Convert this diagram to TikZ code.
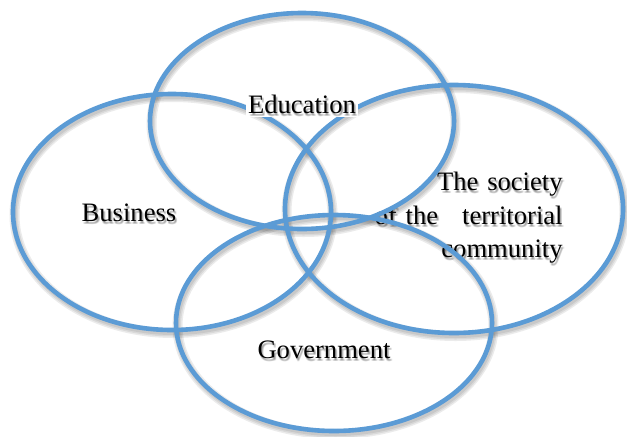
\documentclass[tikz,border=0pt]{standalone}
\usepackage{fontspec}
\setmainfont{Liberation Serif}
\usetikzlibrary{calc}

\definecolor{ringblue}{HTML}{5B9BD5}

\tikzset{
  ring/.style={draw=ringblue,line width=2.3pt},
  ringshade/.style={draw=black,opacity=0.08,line width=#1},
  venntext/.style={font=\fontsize{13.3}{16.75}\selectfont,inner sep=0pt},
}

% label with a soft grey shadow underneath
\newcommand{\setlabel}[4][]{%
  \foreach \dx/\dy in {1/2,2/3,1/3,2/2}
    \node[venntext,#1,text opacity=0.11] at ($(#3)+(\dx,\dy)$) {#4};
  \node[venntext,#1] (#2) at (#3) {#4};}

\begin{document}
\begin{tikzpicture}[x=0.5pt,y=-0.5pt]
  \useasboundingbox (0,0) rectangle (627,436);

  % labels under the rings
  \setlabel{business}{129,213}{Business}
  \setlabel{government}{324,350}{Government}
  \setlabel[text width=94pt,align=right,anchor=east]{society}{563,218}%
    {The society\\ of the\hfill territorial\\ community}

  % the education ring hides the top of "of"
  \begin{scope}
    \clip (302,121) ellipse [x radius=152,y radius=108];
    \fill[white] (370,196) rectangle (398,210.5);
  \end{scope}

  % rings: shadows first, then the strokes
  \foreach \cx/\cy/\rx/\ry in {172/212/159/118,302/121/152/108,
                               454/209/169/124,334/323/158/108}
    \foreach \w in {5,3.5,2}
      \draw[ringshade=\w pt] (\cx+1.5,\cy+3) ellipse [x radius=\rx,y radius=\ry];
  \foreach \cx/\cy/\rx/\ry in {172/212/159/118,302/121/152/108,
                               454/209/169/124,334/323/158/108}
    \draw[ring] (\cx,\cy) ellipse [x radius=\rx,y radius=\ry];

  % education sits on top of the rings
  \node[venntext,fill=white,inner xsep=1pt,inner ysep=2pt] (edupatch) at (302,104)
    {\phantom{Education}};
  \setlabel{education}{302,104}{Education}
\end{tikzpicture}
\end{document}
